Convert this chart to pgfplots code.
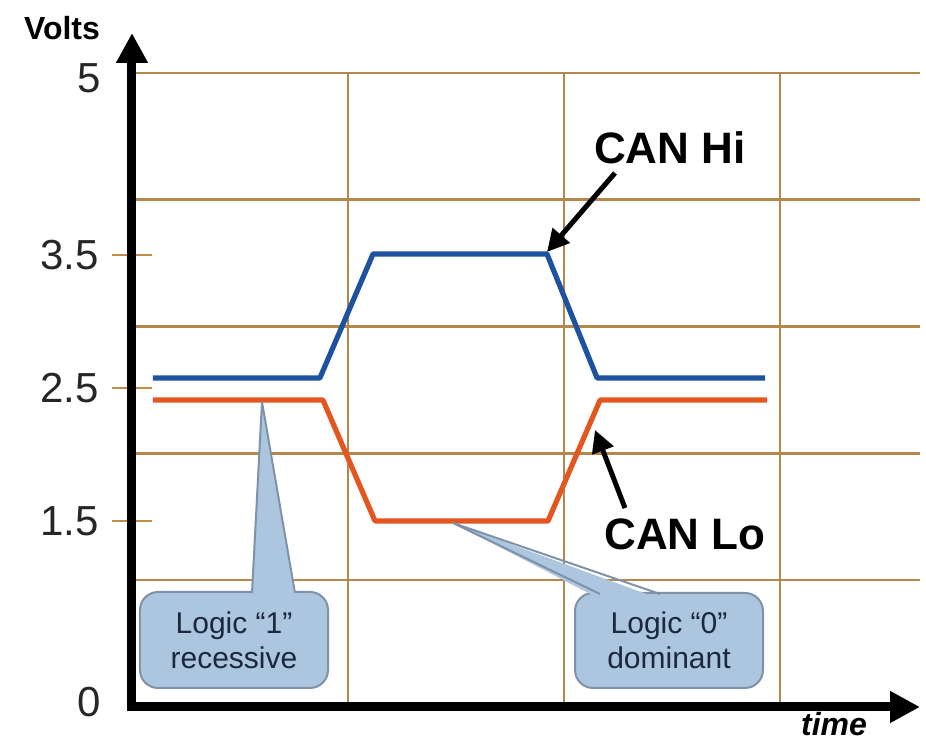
\documentclass[border=0pt]{standalone}
\usepackage{fontspec}
\setmainfont{Liberation Sans}
\usepackage{pgfplots}
\pgfplotsset{compat=1.18}
\usetikzlibrary{arrows.meta}
\definecolor{gridc}{RGB}{180,136,74}
\definecolor{tickc}{RGB}{195,140,70}
\definecolor{hiblue}{RGB}{30,82,160}
\definecolor{loorange}{RGB}{228,86,32}
\definecolor{callfill}{RGB}{172,198,224}
\definecolor{callline}{RGB}{128,146,168}
\definecolor{calltext}{RGB}{28,40,60}
\begin{document}
\begin{tikzpicture}
\begin{axis}[
  at={(0,0)}, anchor=south west,
  scale only axis, width=394pt, height=317pt,
  xmin=0, xmax=3.648, ymin=0, ymax=5,
  axis lines=left,
  x axis line style={line width=4.5pt, shorten <=-2.25pt, -{Triangle[length=15pt,width=15pt]}},
  y axis line style={line width=4.5pt, shorten <=-2.25pt, shorten >=-20pt, -{Triangle[length=15pt,width=15pt]}},
  xtick={1,2,3}, xticklabels={},
  xmajorgrids=true,
  xtick style={draw=none},
  ytick={1.467,2.516,3.565}, yticklabels={1.5,2.5,3.5},
  extra y ticks={0.04,4.96}, extra y tick labels={0,5},
  extra y tick style={major tick length=0pt, yticklabel style={xshift=-9pt}},
  minor ytick={1,2,3,4,5}, yminorgrids=true, minor tick length=0pt,
  tick align=center, major tick length=20pt,
  ytick style={tickc, line width=1pt},
  major grid style={gridc, line width=1.3pt},
  minor grid style={gridc, line width=1.3pt},
  /pgf/number format/assume math mode=true,
  yticklabel style={font=\fontsize{21}{25}\selectfont, text=black!85, xshift=-3pt},
]
\addplot[hiblue, line width=2.6pt, line join=round] coordinates {
  (0.097,2.595) (0.870,2.595) (1.116,3.573) (1.921,3.573) (2.153,2.595) (2.931,2.595)};
\addplot[loorange, line width=2.6pt, line join=round] coordinates {
  (0.097,2.421) (0.884,2.421) (1.125,1.467) (1.926,1.467) (2.167,2.421) (2.940,2.421)};
\end{axis}
\begin{scope}[x=0.5pt, y=-0.5pt, shift={(-66pt,353.5pt)}]
  % callout 1
  \filldraw[fill=callfill, draw=callline, line width=1pt, rounded corners=9pt] (140,592) rectangle (328,688);
  \fill[callfill] (252,598) -- (262,402) -- (295,598) -- cycle;
  \draw[callline, line width=1pt, line join=round] (252,593) -- (262,402) -- (295,593);
  \node[text=calltext, align=center, font=\fontsize{15}{17.5}\selectfont] at (234,640) {Logic “1”\\recessive};
  % callout 2
  \filldraw[fill=callfill, draw=callline, line width=1pt, rounded corners=9pt] (575,593) rectangle (763,688);
  \fill[callfill] (600,599) -- (453,523) -- (660,599) -- cycle;
  \draw[callline, line width=1pt, line join=round] (600,594) -- (453,523) -- (660,594);
  \node[text=calltext, align=center, font=\fontsize{15}{17.5}\selectfont] at (669,640) {Logic “0”\\dominant};
  % arrows
  \draw[line width=2.5pt, -{Triangle[length=11pt,width=11pt]}] (615,173) -- (547,252);
  \draw[line width=2.5pt, -{Triangle[length=11pt,width=11pt]}] (625,508) -- (595,430);
  % labels
  \node[font=\bfseries\fontsize{22}{26}\selectfont] at (670,148) {CAN Hi};
  \node[font=\bfseries\fontsize{22}{26}\selectfont] at (685,534) {CAN Lo};
  \node[font=\bfseries\fontsize{16}{19}\selectfont] at (62,28) {Volts};
  \node[font=\bfseries\itshape\fontsize{16}{19}\selectfont] at (834,724) {time};
\end{scope}
\pgfresetboundingbox
\path[use as bounding box] (-66pt,-17.5pt) rectangle (397pt,353.5pt);
\end{tikzpicture}
\end{document}
